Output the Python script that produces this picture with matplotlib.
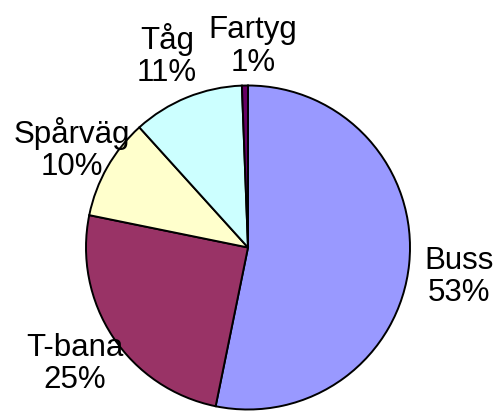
import numpy as np
import matplotlib
matplotlib.use("Agg")
import matplotlib.pyplot as plt

categories = ["Buss", "T-bana", "Spårväg", "Tåg", "Fartyg"]
values = [53.2, 25.0, 10.1, 11.1, 0.6]
colors = ["#9999FF", "#993366", "#FFFFCC", "#CCFFFF", "#660066"]
label_dist = [1.31, 1.28, 1.25, 1.28, 1.26]
label_shift_px = [(0, -8), (0, -2), (0, -2), (-3, 0), (9, -3)]

plt.rcParams['font.family'] = ['Liberation Sans', 'DejaVu Sans']

W, H = 498, 411
cx, cy, R = 248, 247.5, 162
fig = plt.figure(figsize=(W / 100, H / 100), dpi=100)
ax = fig.add_axes([0, 0, 1, 1])
ax.set_aspect('equal')
ax.axis('off')

wedges, _ = ax.pie(values, colors=colors, startangle=90, counterclock=False,
                   radius=1, center=(0, 0),
                   wedgeprops=dict(edgecolor='black', linewidth=1.4))
ax.set_xlim(-cx / R, (W - cx) / R)
ax.set_ylim(-(H - cy) / R, cy / R)

total = sum(values)
for w, name, v, d, (sx, sy) in zip(wedges, categories, values, label_dist, label_shift_px):
    ang = np.deg2rad((w.theta1 + w.theta2) / 2)
    x, y = d * np.cos(ang) + sx / R, d * np.sin(ang) + sy / R
    ax.text(x, y, f"{name}\n{round(v / total * 100):.0f}%", ha='center', va='center',
            fontsize=22.5, linespacing=1.1, color='black')

fig.savefig("out.png", dpi=100)
